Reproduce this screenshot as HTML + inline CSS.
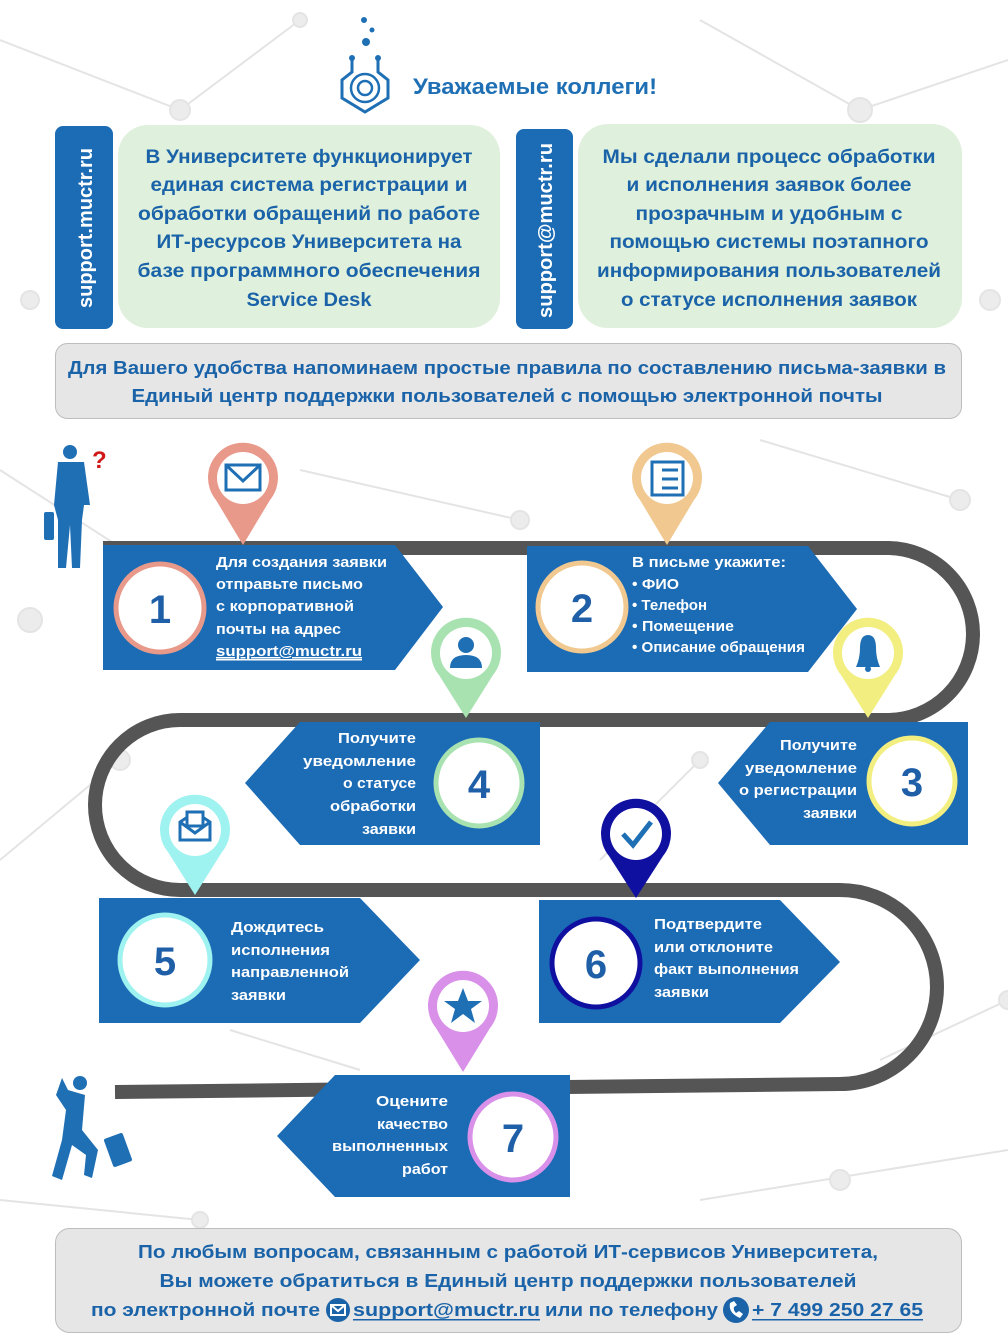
<!DOCTYPE html>
<html><head><meta charset="utf-8"><style>
html,body{margin:0;padding:0;background:#fff}
svg{display:block}
text{font-family:"Liberation Sans","DejaVu Sans",sans-serif;font-weight:bold}
</style></head><body>
<svg width="1008" height="1344" viewBox="0 0 1008 1344" xmlns="http://www.w3.org/2000/svg">
<!-- faint network background -->
<g stroke="#e4e4e4" stroke-width="2" fill="#ececec">
<line x1="0" y1="40" x2="180" y2="110"/><line x1="180" y1="110" x2="300" y2="20"/><line x1="700" y1="20" x2="860" y2="110"/><line x1="860" y1="110" x2="1008" y2="60"/>
<line x1="0" y1="470" x2="140" y2="560"/><line x1="300" y1="470" x2="520" y2="520"/><line x1="760" y1="440" x2="960" y2="500"/>
<line x1="0" y1="860" x2="120" y2="760"/><line x1="600" y1="860" x2="700" y2="760"/><line x1="880" y1="1060" x2="1008" y2="1000"/>
<line x1="0" y1="1200" x2="200" y2="1220"/><line x1="700" y1="1200" x2="1008" y2="1150"/><line x1="230" y1="1030" x2="360" y2="1070"/>
<circle cx="180" cy="110" r="10"/><circle cx="860" cy="110" r="12"/><circle cx="300" cy="20" r="7"/><circle cx="520" cy="520" r="9"/><circle cx="960" cy="500" r="10"/><circle cx="700" cy="760" r="8"/><circle cx="120" cy="760" r="10"/><circle cx="1008" cy="1000" r="9"/><circle cx="200" cy="1220" r="8"/><circle cx="840" cy="1180" r="10"/><circle cx="30" cy="620" r="12"/><circle cx="990" cy="300" r="10"/><circle cx="30" cy="300" r="9"/>
</g>

<!-- logo -->
<g fill="#1f6fb5" stroke="#1f6fb5">
<circle cx="364" cy="20" r="3" stroke="none"/><circle cx="372" cy="30" r="2.5" stroke="none"/><circle cx="366" cy="42" r="4" stroke="none"/>
<path d="M352 60 V72 L342 80 V98 L365 112 L388 98 V80 L378 72 V60" fill="none" stroke-width="3"/>
<circle cx="352" cy="58" r="3" stroke="none"/><circle cx="378" cy="58" r="3" stroke="none"/>
<circle cx="365" cy="88" r="14" fill="none" stroke-width="2.5"/><circle cx="365" cy="88" r="7" fill="none" stroke-width="2.5"/>
</g>
<text x="413" y="94" font-size="22" fill="#1f6fb5" textLength="244" lengthAdjust="spacingAndGlyphs">Уважаемые коллеги!</text>

<!-- top boxes -->
<rect x="55" y="126" width="58" height="203" rx="8" fill="#1b6bb5"/>
<text transform="translate(92,308) rotate(-90)" font-size="20" fill="#fff" textLength="160" lengthAdjust="spacingAndGlyphs">support.muctr.ru</text>
<rect x="118" y="125" width="382" height="203" rx="30" fill="#dff0dc"/>
<g font-size="19" fill="#1a63a8" text-anchor="middle">
<text x="309" y="163" textLength="327" lengthAdjust="spacingAndGlyphs">В Университете функционирует</text>
<text x="309" y="191" textLength="317" lengthAdjust="spacingAndGlyphs">единая система регистрации и</text>
<text x="309" y="220" textLength="342" lengthAdjust="spacingAndGlyphs">обработки обращений по работе</text>
<text x="309" y="248" textLength="305" lengthAdjust="spacingAndGlyphs">ИТ-ресурсов Университета на</text>
<text x="309" y="277" textLength="343" lengthAdjust="spacingAndGlyphs">базе программного обеспечения</text>
<text x="309" y="306" textLength="125" lengthAdjust="spacingAndGlyphs">Service Desk</text>
</g>
<rect x="516" y="129" width="57" height="200" rx="8" fill="#1b6bb5"/>
<text transform="translate(552,318) rotate(-90)" font-size="20" fill="#fff" textLength="175" lengthAdjust="spacingAndGlyphs">support@muctr.ru</text>
<rect x="578" y="124" width="384" height="204" rx="30" fill="#dff0dc"/>
<g font-size="19" fill="#1a63a8" text-anchor="middle">
<text x="769" y="163" textLength="333" lengthAdjust="spacingAndGlyphs">Мы сделали процесс обработки</text>
<text x="769" y="191" textLength="285" lengthAdjust="spacingAndGlyphs">и исполнения заявок более</text>
<text x="769" y="220" textLength="267" lengthAdjust="spacingAndGlyphs">прозрачным и удобным с</text>
<text x="769" y="248" textLength="319" lengthAdjust="spacingAndGlyphs">помощью системы поэтапного</text>
<text x="769" y="277" textLength="344" lengthAdjust="spacingAndGlyphs">информирования пользователей</text>
<text x="769" y="306" textLength="296" lengthAdjust="spacingAndGlyphs">о статусе исполнения заявок</text>
</g>
<rect x="55.5" y="343.5" width="906" height="75" rx="12" fill="#e6e6e6" stroke="#bdbdbd"/>
<g font-size="18.5" fill="#1a63a8" text-anchor="middle">
<text x="507" y="374" textLength="878" lengthAdjust="spacingAndGlyphs">Для Вашего удобства напоминаем простые правила по составлению письма-заявки в</text>
<text x="507" y="402" textLength="751" lengthAdjust="spacingAndGlyphs">Единый центр поддержки пользователей с помощью электронной почты</text>
</g>

<!-- road -->
<path d="M103,548 H887 A86 86 0 0 1 887,720 H180 A85 85 0 0 0 180,890 H840 A97 97 0 0 1 840,1084 L115,1092" fill="none" stroke="#555" stroke-width="14"/>

<!-- step boxes -->
<g fill="#1b6bb5">
<polygon points="103,545 395,545 443,607 395,670 103,670"/>
<polygon points="527,546 808,546 857,609 808,672 527,672"/>
<polygon points="770,722 968,722 968,845 770,845 718,783"/>
<polygon points="300,722 540,722 540,845 300,845 245,783"/>
<polygon points="99,898 360,898 420,960 360,1023 99,1023"/>
<polygon points="539,900 780,900 840,962 780,1023 539,1023"/>
<polygon points="335,1075 570,1075 570,1197 335,1197 277,1136"/>
</g>
<!-- circles -->
<g fill="#fff" stroke-width="5">
<circle cx="160" cy="608" r="44" stroke="#e8998a"/>
<circle cx="582" cy="607" r="44" stroke="#f0c890"/>
<circle cx="912" cy="781" r="43" stroke="#f2ee80"/>
<circle cx="479" cy="783" r="43" stroke="#a8e2b0"/>
<circle cx="165" cy="960" r="45" stroke="#9ef2f0"/>
<circle cx="596" cy="963" r="44" stroke="#1010a0"/>
<circle cx="513" cy="1137" r="43" stroke="#d890e8"/>
</g>
<g font-size="40" fill="#1f5fa8" text-anchor="middle">
<text x="160" y="623">1</text><text x="582" y="622">2</text><text x="912" y="796">3</text><text x="479" y="798">4</text><text x="165" y="975">5</text><text x="596" y="978">6</text><text x="513" y="1152">7</text>
</g>

<!-- step texts -->
<g font-size="15" fill="#fff">
<text x="216" y="567" textLength="171" lengthAdjust="spacingAndGlyphs">Для создания заявки</text>
<text x="216" y="589" textLength="147" lengthAdjust="spacingAndGlyphs">отправьте письмо</text>
<text x="216" y="611" textLength="138" lengthAdjust="spacingAndGlyphs">с корпоративной</text>
<text x="216" y="634" textLength="125" lengthAdjust="spacingAndGlyphs">почты на адрес</text>
<text x="216" y="656" textLength="146" lengthAdjust="spacingAndGlyphs" text-decoration="underline">support@muctr.ru</text>
<rect x="216" y="659" width="146" height="1.5" fill="#fff"/>
<text x="632" y="567" textLength="154" lengthAdjust="spacingAndGlyphs">В письме укажите:</text>
<text x="632" y="589" textLength="47" lengthAdjust="spacingAndGlyphs">• ФИО</text>
<text x="632" y="610" textLength="75" lengthAdjust="spacingAndGlyphs">• Телефон</text>
<text x="632" y="631" textLength="102" lengthAdjust="spacingAndGlyphs">• Помещение</text>
<text x="632" y="652" textLength="173" lengthAdjust="spacingAndGlyphs">• Описание обращения</text>
<g text-anchor="end">
<text x="416" y="743" textLength="78" lengthAdjust="spacingAndGlyphs">Получите</text>
<text x="416" y="766" textLength="113" lengthAdjust="spacingAndGlyphs">уведомление</text>
<text x="416" y="788" textLength="73" lengthAdjust="spacingAndGlyphs">о статусе</text>
<text x="416" y="811" textLength="86" lengthAdjust="spacingAndGlyphs">обработки</text>
<text x="416" y="834" textLength="54" lengthAdjust="spacingAndGlyphs">заявки</text>
<text x="857" y="750" textLength="77" lengthAdjust="spacingAndGlyphs">Получите</text>
<text x="857" y="773" textLength="112" lengthAdjust="spacingAndGlyphs">уведомление</text>
<text x="857" y="795" textLength="118" lengthAdjust="spacingAndGlyphs">о регистрации</text>
<text x="857" y="818" textLength="54" lengthAdjust="spacingAndGlyphs">заявки</text>
<text x="448" y="1106" textLength="72" lengthAdjust="spacingAndGlyphs">Оцените</text>
<text x="448" y="1129" textLength="71" lengthAdjust="spacingAndGlyphs">качество</text>
<text x="448" y="1151" textLength="116" lengthAdjust="spacingAndGlyphs">выполненных</text>
<text x="448" y="1174" textLength="46" lengthAdjust="spacingAndGlyphs">работ</text>
</g>
<text x="231" y="932" textLength="93" lengthAdjust="spacingAndGlyphs">Дождитесь</text>
<text x="231" y="955" textLength="99" lengthAdjust="spacingAndGlyphs">исполнения</text>
<text x="231" y="977" textLength="118" lengthAdjust="spacingAndGlyphs">направленной</text>
<text x="231" y="1000" textLength="55" lengthAdjust="spacingAndGlyphs">заявки</text>
<text x="654" y="929" textLength="108" lengthAdjust="spacingAndGlyphs">Подтвердите</text>
<text x="654" y="952" textLength="119" lengthAdjust="spacingAndGlyphs">или отклоните</text>
<text x="654" y="974" textLength="145" lengthAdjust="spacingAndGlyphs">факт выполнения</text>
<text x="654" y="997" textLength="55" lengthAdjust="spacingAndGlyphs">заявки</text>
</g>

<!-- pins -->
<g>
<path d="M243,545 L216,500 A35 35 0 1 1 270,500 Z" fill="#e8998a"/><circle cx="243" cy="478" r="26" fill="#fff"/>
<path d="M667,545 L640,500 A35 35 0 1 1 694,500 Z" fill="#f0c890"/><circle cx="667" cy="478" r="26" fill="#fff"/>
<path d="M466,718 L439,675 A35 35 0 1 1 493,675 Z" fill="#a8e2b0"/><circle cx="466" cy="653" r="26" fill="#fff"/>
<path d="M868,718 L841,675 A35 35 0 1 1 895,675 Z" fill="#f2ee80"/><circle cx="868" cy="653" r="26" fill="#fff"/>
<path d="M195,895 L168,852 A35 35 0 1 1 222,852 Z" fill="#9ef2f0"/><circle cx="195" cy="830" r="26" fill="#fff"/>
<path d="M636,898 L609,856 A35 35 0 1 1 663,856 Z" fill="#1010a0"/><circle cx="636" cy="834" r="26" fill="#fff"/>
<path d="M463,1072 L436,1028 A35 35 0 1 1 490,1028 Z" fill="#d890e8"/><circle cx="463" cy="1006" r="26" fill="#fff"/>
</g>
<!-- pin icons -->
<g fill="none" stroke="#1f6fb5" stroke-width="3">
<rect x="226" y="465" width="34" height="25"/><path d="M226,465 L243,481 L260,465"/>
<rect x="652" y="462" width="31" height="33"/><path d="M662,470 H678 M662,479 H678 M662,488 H678"/>
<path d="M180,840 V822 L195,812 L210,822 V840 Z M180,822 L195,833 L210,822"/><rect x="187" y="812" width="16" height="14" fill="#fff"/>
<path d="M623,834 L633,845 L651,822" stroke-width="5"/>
</g>
<g fill="#1f6fb5">
<circle cx="466" cy="645" r="8"/><path d="M450,668 Q450,655 466,655 Q482,655 482,668 Z"/>
<path d="M856,667 Q860,658 860,648 Q860,635 868,635 Q876,635 876,648 Q876,658 880,667 Z"/><circle cx="868" cy="669" r="3"/>
<polygon points="463,988 468,1001 482,1001 471,1009 475,1023 463,1014 451,1023 455,1009 444,1001 458,1001"/>
</g>

<!-- figures -->
<g fill="#1f6fb5">
<circle cx="70" cy="452" r="7"/>
<path d="M58,462 L84,462 L90,505 L84,505 L82,520 L80,568 L72,568 L70,525 L66,568 L58,568 L58,520 L54,505 Z"/>
<rect x="44" y="512" width="10" height="28" rx="2"/>
<path d="M62,1078 L68,1090 L85,1095 L82,1130 L98,1150 L92,1178 L84,1175 L86,1155 L72,1145 L62,1180 L52,1176 L62,1140 L66,1110 L56,1095 Z"/>
<circle cx="80" cy="1083" r="7"/>
<rect x="108" y="1135" width="20" height="30" rx="2" transform="rotate(-20 118 1150)"/>
</g>
<text x="92" y="468" font-size="24" fill="#d01818" font-weight="normal">?</text>

<!-- footer -->
<rect x="55.5" y="1228.5" width="906" height="104" rx="14" fill="#e6e6e6" stroke="#bdbdbd"/>
<g font-size="18.5" fill="#1a63a8">
<text x="508" y="1258" text-anchor="middle" textLength="740" lengthAdjust="spacingAndGlyphs">По любым вопросам, связанным с работой ИТ-сервисов Университета,</text>
<text x="508" y="1287" text-anchor="middle" textLength="697" lengthAdjust="spacingAndGlyphs">Вы можете обратиться в Единый центр поддержки пользователей</text>
<text x="91" y="1316" textLength="229" lengthAdjust="spacingAndGlyphs">по электронной почте</text>
<text x="353" y="1316" textLength="187" lengthAdjust="spacingAndGlyphs">support@muctr.ru</text>
<rect x="353" y="1319" width="187" height="1.5"/>
<text x="545" y="1316" textLength="173" lengthAdjust="spacingAndGlyphs">или по телефону</text>
<text x="752" y="1316" textLength="171" lengthAdjust="spacingAndGlyphs">+ 7 499 250 27 65</text>
<rect x="752" y="1319" width="171" height="1.5"/>
<circle cx="338" cy="1310" r="12"/>
<circle cx="736" cy="1310" r="13"/>
</g>
<g fill="none" stroke="#fff" stroke-width="2">
<rect x="331" y="1305" width="14" height="10"/><path d="M331,1305 L338,1311 L345,1305"/>
</g>
<path d="M730,1303 Q728,1313 740,1318 L743,1314 L739,1311 L736,1313 Q733,1310 734,1307 L737,1305 L734,1301 Z" fill="#fff"/>
</svg>
</body></html>
